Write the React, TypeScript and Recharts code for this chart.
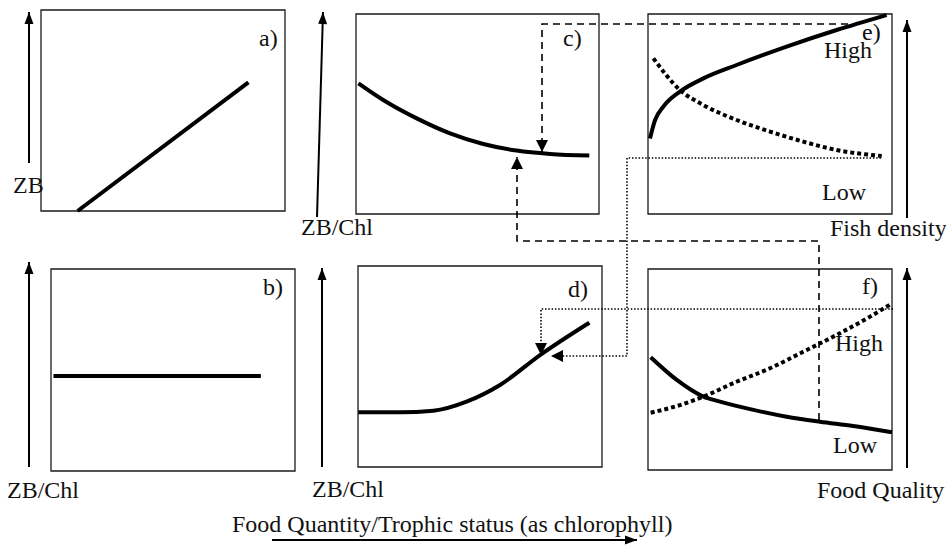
import { Line, LineChart, ReferenceArea, XAxis, YAxis } from "recharts";

const W = 946;
const H = 545;

type P = { x: number; y: number };

// ---- panel curves (panel units, 0–10 on both axes) -------------------------
const curveA: P[] = [
  { x: 1.5, y: 0 },
  { x: 8.5, y: 6.4 },
];
const curveB: P[] = [
  { x: 0.1, y: 4.7 },
  { x: 8.6, y: 4.7 },
];
const curveC: P[] = [
  { x: 0.1, y: 6.53 },
  { x: 1.12, y: 5.7 },
  { x: 2.5, y: 4.78 },
  { x: 3.87, y: 4.03 },
  { x: 5.24, y: 3.5 },
  { x: 6.61, y: 3.17 },
  { x: 7.98, y: 3.0 },
  { x: 9.6, y: 2.92 },
];
const curveD: P[] = [
  { x: 0.01, y: 2.72 },
  { x: 1.72, y: 2.72 },
  { x: 3.09, y: 2.8 },
  { x: 4.45, y: 3.25 },
  { x: 5.82, y: 4.08 },
  { x: 7.46, y: 5.57 },
  { x: 9.48, y: 7.18 },
];
const curveESolid: P[] = [
  { x: 0.08, y: 3.78 },
  { x: 0.29, y: 4.7 },
  { x: 0.63, y: 5.37 },
  { x: 1.31, y: 6.12 },
  { x: 2.27, y: 6.78 },
  { x: 3.63, y: 7.45 },
  { x: 5.68, y: 8.37 },
  { x: 7.73, y: 9.2 },
  { x: 9.78, y: 9.95 },
];
const curveEDotted: P[] = [
  { x: 0.22, y: 7.78 },
  { x: 1.31, y: 6.2 },
  { x: 2.27, y: 5.45 },
  { x: 3.63, y: 4.7 },
  { x: 5.0, y: 4.12 },
  { x: 6.36, y: 3.62 },
  { x: 7.73, y: 3.2 },
  { x: 9.58, y: 2.9 },
];
const curveFSolid: P[] = [
  { x: 0.11, y: 5.61 },
  { x: 1.18, y: 4.48 },
  { x: 2.27, y: 3.65 },
  { x: 2.95, y: 3.4 },
  { x: 4.32, y: 2.99 },
  { x: 5.68, y: 2.65 },
  { x: 7.05, y: 2.4 },
  { x: 8.41, y: 2.19 },
  { x: 10, y: 1.88 },
];
const curveFDotted: P[] = [
  { x: 0.11, y: 2.85 },
  { x: 1.31, y: 3.23 },
  { x: 2.27, y: 3.65 },
  { x: 3.63, y: 4.39 },
  { x: 5.0, y: 5.06 },
  { x: 6.36, y: 5.88 },
  { x: 7.73, y: 6.72 },
  { x: 9.1, y: 7.63 },
  { x: 10, y: 8.29 },
];

// ---- connectors & axis arrows (page units) ---------------------------------
const arrowA: P[] = [{ x: 29, y: 163 }, { x: 29, y: 12 }];
const arrowB: P[] = [{ x: 29, y: 467 }, { x: 29, y: 262 }];
const arrowC: P[] = [{ x: 317, y: 217 }, { x: 323, y: 12 }];
const arrowD: P[] = [{ x: 322, y: 467 }, { x: 322, y: 268 }];
const arrowE: P[] = [{ x: 907, y: 218 }, { x: 907, y: 20 }];
const arrowF: P[] = [{ x: 907, y: 468 }, { x: 907, y: 268 }];
const arrowQuantity: P[] = [{ x: 272, y: 540 }, { x: 637, y: 540 }];

const dashEtoC: P[] = [
  { x: 848, y: 24 },
  { x: 542, y: 24 },
  { x: 542, y: 152 },
];
const dashFtoC: P[] = [
  { x: 819, y: 420 },
  { x: 819, y: 241 },
  { x: 517, y: 241 },
  { x: 517, y: 157 },
];
const dotEtoD: P[] = [
  { x: 881, y: 158 },
  { x: 627, y: 158 },
  { x: 627, y: 356 },
  { x: 551, y: 356 },
];
const dotFtoD: P[] = [
  { x: 893, y: 309 },
  { x: 541, y: 309 },
  { x: 541, y: 355 },
];

type Panel = {
  id: string;
  left: number;
  top: number;
  w: number;
  h: number;
  solid: P[];
  dotted?: P[];
};

const PANELS: Panel[] = [
  { id: "a", left: 41, top: 10, w: 244, h: 201, solid: curveA },
  { id: "b", left: 51, top: 269, w: 244, h: 202, solid: curveB },
  { id: "c", left: 356, top: 14, w: 243, h: 200, solid: curveC },
  { id: "d", left: 358, top: 266, w: 244, h: 201, solid: curveD },
  { id: "e", left: 648, top: 14, w: 244, h: 200, solid: curveESolid, dotted: curveEDotted },
  { id: "f", left: 648, top: 269, w: 244, h: 201, solid: curveFSolid, dotted: curveFDotted },
];

type Kind = "axis" | "dash" | "dot";
const CONNECTORS: { id: string; pts: P[]; kind: Kind }[] = [
  { id: "ya", pts: arrowA, kind: "axis" },
  { id: "yb", pts: arrowB, kind: "axis" },
  { id: "yc", pts: arrowC, kind: "axis" },
  { id: "yd", pts: arrowD, kind: "axis" },
  { id: "ye", pts: arrowE, kind: "axis" },
  { id: "yf", pts: arrowF, kind: "axis" },
  { id: "xq", pts: arrowQuantity, kind: "axis" },
  { id: "d1", pts: dashEtoC, kind: "dash" },
  { id: "d2", pts: dashFtoC, kind: "dash" },
  { id: "o1", pts: dotEtoD, kind: "dot" },
  { id: "o2", pts: dotFtoD, kind: "dot" },
];

const LABELS: { text: string; x: number; base: number }[] = [
  { text: "ZB", x: 13, base: 193 },
  { text: "a)", x: 259, base: 46 },
  { text: "ZB/Chl", x: 301, base: 235 },
  { text: "c)", x: 563, base: 46 },
  { text: "e)", x: 862, base: 40 },
  { text: "High", x: 824, base: 58 },
  { text: "Low", x: 822, base: 200 },
  { text: "Fish density", x: 830, base: 236 },
  { text: "b)", x: 263, base: 295 },
  { text: "ZB/Chl", x: 7, base: 498 },
  { text: "d)", x: 568, base: 297 },
  { text: "ZB/Chl", x: 312, base: 497 },
  { text: "f)", x: 862, base: 294 },
  { text: "High", x: 835, base: 351 },
  { text: "Low", x: 833, base: 453 },
  { text: "Food Quality", x: 817, base: 498 },
  { text: "Food Quantity/Trophic status (as chlorophyll)", x: 232, base: 532 },
];

const FONT = 24;

// filled arrowhead on the last point, pointing along the last segment
function arrowDot(pts: P[], len: number, half: number) {
  return (props: any) => {
    const { cx, cy, index } = props;
    if (index !== pts.length - 1 || index === 0 || cx == null)
      return <g key={`n${index}`} />;
    const a = pts[index - 1];
    const b = pts[index];
    let dx = b.x - a.x;
    let dy = b.y - a.y;
    const m = Math.hypot(dx, dy) || 1;
    dx /= m;
    dy /= m;
    const bx = cx - dx * len;
    const by = cy - dy * len;
    const nx = -dy * half;
    const ny = dx * half;
    return (
      <polygon
        key={`h${index}`}
        points={`${cx},${cy} ${bx + nx},${by + ny} ${bx - nx},${by - ny}`}
        fill="#000"
      />
    );
  };
}

function PanelChart({ p }: { p: Panel }) {
  const pad = 2;
  return (
    <div style={{ position: "absolute", left: p.left - pad, top: p.top - pad }}>
      <LineChart
        width={p.w + 2 * pad}
        height={p.h + 2 * pad}
        margin={{ top: pad, right: pad, bottom: pad, left: pad }}
      >
        <XAxis type="number" dataKey="x" domain={[0, 10]} hide />
        <YAxis type="number" domain={[0, 10]} hide />
        <ReferenceArea
          x1={0}
          x2={10}
          y1={0}
          y2={10}
          fill="none"
          stroke="#1a1a1a"
          strokeWidth={1.3}
        />
        <Line
          data={p.solid}
          dataKey="y"
          type="monotone"
          stroke="#000"
          strokeWidth={4}
          dot={false}
          isAnimationActive={false}
        />
        {p.dotted && (
          <Line
            data={p.dotted}
            dataKey="y"
            type="monotone"
            stroke="#000"
            strokeWidth={4}
            strokeDasharray="4 3"
            dot={false}
            isAnimationActive={false}
          />
        )}
      </LineChart>
    </div>
  );
}

function Overlay() {
  return (
    <div style={{ position: "absolute", left: 0, top: 0 }}>
      <LineChart width={W} height={H} margin={{ top: 0, right: 0, bottom: 0, left: 0 }}>
        <XAxis type="number" dataKey="x" domain={[0, W]} hide />
        <YAxis type="number" domain={[0, H]} reversed hide />
        {CONNECTORS.map((c) => {
          const axis = c.kind === "axis";
          return (
            <Line
              key={c.id}
              data={c.pts}
              dataKey="y"
              type="linear"
              stroke="#000"
              strokeWidth={axis ? 2 : 1.6}
              strokeDasharray={c.kind === "dash" ? "7 5" : c.kind === "dot" ? "1.5 1.8" : undefined}
              dot={arrowDot(c.pts, 12, axis ? 4.5 : 6)}
              activeDot={false}
              isAnimationActive={false}
            />
          );
        })}
      </LineChart>
    </div>
  );
}

export default function App() {
  return (
    <div
      style={{
        position: "absolute",
        left: 0,
        top: 0,
        width: W,
        height: H,
        background: "#fff",
        overflow: "hidden",
        fontFamily: '"Liberation Serif", "Times New Roman", serif',
      }}
    >
      {PANELS.map((p) => (
        <PanelChart key={p.id} p={p} />
      ))}
      <Overlay />
      {LABELS.map((l, i) => (
        <div
          key={i}
          style={{
            position: "absolute",
            left: l.x,
            top: l.base - 0.838 * FONT,
            fontSize: FONT,
            lineHeight: `${FONT}px`,
            whiteSpace: "nowrap",
            color: "#111",
          }}
        >
          {l.text}
        </div>
      ))}
    </div>
  );
}
